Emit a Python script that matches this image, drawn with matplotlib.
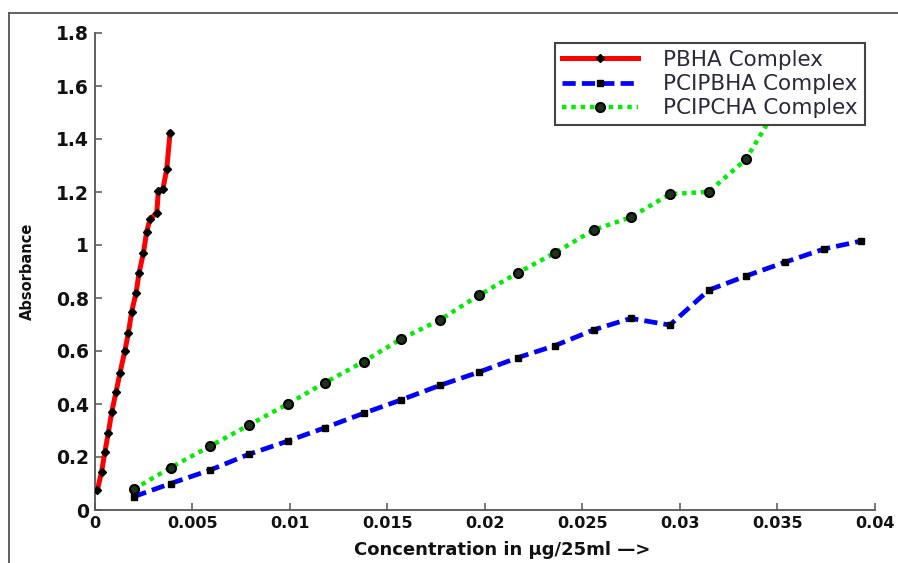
import matplotlib.pyplot as plt
from matplotlib.lines import Line2D

# --- data ---
pbha_x = [0.00014, 0.00036, 0.00053, 0.0007, 0.00088, 0.0011, 0.0013, 0.00155, 0.00173, 0.0019,
          0.00213, 0.00228, 0.0025, 0.00267, 0.00284, 0.00319, 0.00327, 0.0035, 0.0037, 0.00387]
pbha_y = [0.075, 0.145, 0.22, 0.29, 0.37, 0.446, 0.516, 0.60, 0.667, 0.748,
          0.82, 0.895, 0.968, 1.05, 1.097, 1.122, 1.205, 1.21, 1.286, 1.424]

pcipbha_x = [0.002, 0.0039, 0.0059, 0.0079, 0.0099, 0.0118, 0.0138, 0.0157, 0.0177, 0.0197,
             0.0217, 0.0236, 0.0256, 0.0275, 0.0295, 0.0315, 0.0334, 0.0354, 0.0374, 0.0393]
pcipbha_y = [0.05, 0.10, 0.15, 0.21, 0.26, 0.31, 0.365, 0.415, 0.47, 0.52,
             0.575, 0.62, 0.68, 0.723, 0.698, 0.83, 0.883, 0.935, 0.985, 1.015]

pcipcha_x = [0.002, 0.0039, 0.0059, 0.0079, 0.0099, 0.0118, 0.0138, 0.0157, 0.0177, 0.0197,
             0.0217, 0.0236, 0.0256, 0.0275, 0.0295, 0.0315, 0.0334, 0.0354]
pcipcha_y = [0.078, 0.16, 0.24, 0.32, 0.40, 0.48, 0.56, 0.645, 0.717, 0.81,
             0.895, 0.97, 1.057, 1.105, 1.192, 1.201, 1.323, 1.57]

x_ticks = [0, 0.005, 0.01, 0.015, 0.02, 0.025, 0.03, 0.035, 0.04]
x_tick_labels = ['0', '0.005', '0.01', '0.015', '0.02', '0.025', '0.03', '0.035', '0.04']
y_ticks = [0, 0.2, 0.4, 0.6, 0.8, 1.0, 1.2, 1.4, 1.6, 1.8]
y_tick_labels = ['0', '0.2', '0.4', '0.6', '0.8', '1', '1.2', '1.4', '1.6', '1.8']

W, H = 898, 563
fig = plt.figure(figsize=(W / 100, H / 100), dpi=100)
ax = fig.add_axes([94.6 / W, 53 / H, 780 / W, 477 / H])

ax.plot(pbha_x, pbha_y, color='#ff0000', lw=3.6, marker='D', ms=4.5,
        mfc='black', mec='black', label='PBHA Complex', zorder=3)
ax.plot(pcipbha_x, pcipbha_y, color='#0000ff', lw=3.4, dashes=(2.8, 1.3), marker='s', ms=5,
        mfc='black', mec='black', label='PCIPBHA Complex', zorder=3)
ax.plot(pcipcha_x, pcipcha_y, color='#00ee00', lw=3.2, dashes=(1, 1.1), marker='o', ms=6.5,
        mfc='#1c331c', mec='black', mew=1.5, label='PCIPCHA Complex', zorder=3)

ax.set_xlim(0, 0.04)
ax.set_ylim(0, 1.8)
ax.set_xticks(x_ticks)
ax.set_xticklabels(x_tick_labels)
ax.set_yticks(y_ticks)
ax.set_yticklabels(y_tick_labels)

for s in ['top', 'right']:
    ax.spines[s].set_visible(False)
for s in ['left', 'bottom']:
    ax.spines[s].set_color('#555555')
    ax.spines[s].set_linewidth(1.3)

ax.tick_params(direction='in', length=5, width=1.1, color='#555555', pad=4)
for lab in ax.get_xticklabels():
    lab.set_fontfamily('DejaVu Sans')
    lab.set_fontweight('bold')
    lab.set_fontsize(11.5)
    lab.set_color('#111111')
for lab in ax.get_yticklabels():
    lab.set_fontfamily('DejaVu Sans')
    lab.set_fontweight('bold')
    lab.set_fontsize(13.5)
    lab.set_color('#111111')

ax.set_xlabel('Concentration in µg/25ml —>', fontsize=13, fontweight='bold',
              family='DejaVu Sans', color='#111111')
ax.xaxis.set_label_coords(0.522, -0.064)
ax.set_ylabel('Absorbance', fontsize=10.5, fontweight='bold', family='DejaVu Sans', color='#111111')
ax.yaxis.set_label_coords(-0.077, 0.5)

leg = ax.legend(loc='upper right', bbox_to_anchor=(865 / W, 1 - 43 / H),
                bbox_transform=fig.transFigure, borderaxespad=0, fancybox=False,
                frameon=True, framealpha=1, edgecolor='#444444',
                prop={'family': 'DejaVu Sans', 'size': 15.5},
                handlelength=3.5, handletextpad=1.2, labelspacing=0.2, borderpad=0.32)
leg.get_frame().set_linewidth(1.5)
leg.set_zorder(10)
for t in leg.get_texts():
    t.set_color('#2a2a3a')

# outer figure border (top and left only)
fig.add_artist(Line2D([9 / W, 1], [1 - 13 / H, 1 - 13 / H], transform=fig.transFigure,
                      color='#555555', lw=1.3))
fig.add_artist(Line2D([9 / W, 9 / W], [0, 1 - 13 / H], transform=fig.transFigure,
                      color='#555555', lw=1.3))

fig.savefig('out.png', dpi=100)
